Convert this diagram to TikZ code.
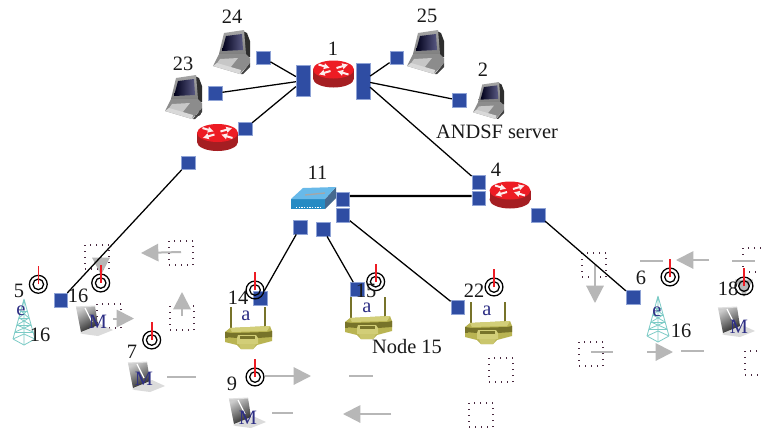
\documentclass[tikz,border=0pt]{standalone}
\usepackage{fontspec}
\setmainfont{Liberation Serif}
\usetikzlibrary{arrows.meta}
\definecolor{sqblue}{HTML}{2F4DA3}
\definecolor{sqedge}{HTML}{8FA3D6}
\definecolor{navy}{HTML}{2E2F85}
\definecolor{arrowgray}{HTML}{B7B7B7}
\definecolor{dotcol}{HTML}{4A2A40}
\definecolor{rred}{HTML}{ED1C24}
\definecolor{rdark}{HTML}{A51E22}
\definecolor{tealt}{HTML}{7CCBC6}
\definecolor{oliveA}{HTML}{B9B452}
\definecolor{oliveB}{HTML}{77732A}
\definecolor{oliveC}{HTML}{D2CE78}
\tikzset{
  lab/.style={inner sep=0pt,font=\fontsize{15.3}{18}\selectfont,text=black!90},
  icolab/.style={inner sep=0pt,font=\fontsize{15.3}{18}\selectfont,text=navy},
  sq/.style={rectangle,draw=sqedge,line width=.3pt,fill=sqblue,inner sep=0pt,minimum width=10.4pt,minimum height=10.4pt},
  barL/.style={sq,minimum height=23.5pt},
  barR/.style={sq,minimum height=27pt},
  link/.style={draw=black,line width=.95pt},
  thicklink/.style={draw=black,line width=1.7pt},
  ring/.style={circle,draw=black,line width=.95pt,inner sep=0pt,minimum size=13.4pt},
  ringin/.style={draw=black,line width=.95pt},
  redl/.style={draw=rred,line width=1.2pt},
  dotbox/.style={rectangle,draw=dotcol,line width=1pt,dash pattern=on 1pt off 3.5pt,inner sep=0pt,minimum size=18pt},
  gline/.style={draw=arrowgray,line width=1.5pt},
  garrow/.style={gline,-{Triangle[length=13pt,width=13pt,color=arrowgray]}},
  router/.pic={
    \fill[rdark] (-20.5,-4.5) rectangle (20.5,4.5);
    \fill[rdark] (0,4.5) ellipse[x radius=20.5,y radius=9];
    \fill[rred] (0,-4.5) ellipse[x radius=20.5,y radius=9];
    \begin{scope}[white!92!rred,line width=1.5pt,-{Latex[length=4.6pt,width=5pt]}]
      \draw (-15,-9.5) -- (-3.5,-6);
      \draw (15,0.5) -- (3.5,-3);
      \draw (-3,-3) -- (-15,0.5);
      \draw (3,-6) -- (15,-9.5);
    \end{scope}
  },
  computer/.pic={
    \fill[black!82] (30,1) -- (34,3) -- (37,11) -- (37,27) -- (32,27) -- cycle;
    \shade[top color=black!35,bottom color=black!50] (6,24) -- (11,3) -- (31,0) -- (33,24) -- cycle;
    \shade[left color=black!90!blue,right color=blue!25!black!65] (9,21) -- (13,6) -- (29,4) -- (30,20) -- cycle;
    \fill[black!45] (0,36) -- (6,24) -- (33,24) -- (37,28) -- (37,33) -- (27,44) -- cycle;
    \fill[black!22] (2,36) -- (7,29) -- (25,28) -- (17,38) -- cycle;
    \fill[black!75] (28,44) -- (37,33) -- (37,37) -- (30,44) -- cycle;
    \fill[black!15] (0,36) -- (27,44) -- (28,40) -- (4,33) -- cycle;
  },
  laptop/.pic={
    \fill[black!14] (4,27) -- (24,18) -- (37,24) -- (22,30) -- (7,28) -- cycle;
    \shade[top color=black!20,bottom color=black!85,shading angle=30] (0,1) -- (19,0) -- (22,19) -- (5,26) -- cycle;
    \draw[white,line width=1pt] (9,2) -- (16,16);
    \draw[black!12,line width=.8pt] (0,1) -- (19,0);
  },
  tower/.pic={
    \begin{scope}[draw=tealt,line width=.6pt]
      \draw (0,0) -- (-11,40) (0,0) -- (11,40) (0,0) -- (0,46);
      \draw (-3,12) -- (3,12) (-5,19) -- (5,19) (-7,26) -- (7,26) (-9,33) -- (9,33);
      \draw (-3,12) -- (5,19) (3,12) -- (-5,19) (-5,19) -- (7,26) (5,19) -- (-7,26) (-7,26) -- (9,33) (7,26) -- (-9,33);
      \draw (-11,40) -- (0,35) -- (11,40) (-11,40) -- (0,46) -- (11,40);
    \end{scope}
  },
  apbox/.pic={
    \draw[oliveB,line width=1.5pt] (6,0) -- (6,25) (39.5,0) -- (39.5,24);
    \fill[oliveA] (0,25) -- (5,21) -- (45,19) -- (47,24) -- (47,34) -- (32,38) -- (28,42) -- (16,42) -- (12,38) -- (0,35) -- cycle;
    \fill[oliveC] (5,21) -- (45,19) -- (42,24) -- (7,25) -- cycle;
    \fill[oliveB] (0,25) -- (7,26) -- (42,25) -- (47,24) -- (47,30) -- (33,31) -- (12,31) -- (0,30) -- cycle;
    \fill[oliveC] (13,28) -- (31,28) -- (33,31) -- (33,37) -- (12,37) -- (12,31) -- cycle;
    \fill[oliveB] (15,29) rectangle (30,32);
    \fill[oliveB] (0,28) rectangle (3,31);
    \fill[oliveC!70!oliveA] (14,37) -- (31,37) -- (28,42) -- (16,42) -- cycle;
  }
}
\newcommand{\antring}[3]{%
  \node[ring] (#1) at (#2,#3) {};
  \draw[ringin] (#1.center) circle[radius=5.3];
  \draw[redl] (#1.center) -- ++(0,-18);
}
\newcommand{\gseg}[6]{% name, style, x1,y1,x2,y2
  \coordinate (#1s) at (#3,#4);
  \coordinate (#1e) at (#5,#6);
  \draw[#2] (#1s) -- (#1e);
}
\begin{document}
\begin{tikzpicture}[x=.75pt,y=-.75pt]
\useasboundingbox (0,0) rectangle (761,430);
\fill[white] (0,0) rectangle (761,430);
\clip (0,0) rectangle (761,430);

% dotted boxes
\node[dotbox] (d1) at (97,257) {};
\node[dotbox] (d2) at (181,253) {};
\node[dotbox] (d3) at (109,316) {};
\node[dotbox] (d4) at (182,318) {};
\node[dotbox] (d5) at (501,370) {};
\node[dotbox] (d6) at (481,415) {};
\node[dotbox] (d7) at (594,265) {};
\node[dotbox] (d8) at (755,260) {};
\node[dotbox] (d9) at (591,354) {};
\node[dotbox] (d10) at (757,363) {};

% gray arrows
\gseg{a1}{garrow}{181}{252}{141}{253}
\gseg{a2}{garrow}{101}{256}{101}{275}
\gseg{a3}{garrow}{113}{318.5}{134}{318.5}
\gseg{a4}{garrow}{182}{316}{182}{292}
\gseg{a5}{gline}{167}{377}{196}{377}
\gseg{a6}{garrow}{265}{376}{311}{376}
\gseg{a7}{gline}{349}{376}{373}{376}
\gseg{a8}{gline}{272}{413}{293}{413}
\gseg{a9}{garrow}{391}{414}{343}{414}
\gseg{a10}{garrow}{595}{265}{595}{303}
\gseg{a11}{gline}{640}{261}{663}{261}
\gseg{a12}{garrow}{709}{260}{676}{260}
\gseg{a13}{gline}{732}{261}{755}{261}
\gseg{a14}{gline}{591}{352}{613}{352}
\gseg{a15}{garrow}{647}{352}{673}{352}
\gseg{a16}{gline}{681}{351}{704}{351}
\gseg{a17}{garrow}{744}{290}{744}{297}

% hidden label behind computer 23
\node[lab] (l3) at (197,110) {3};

% icons
\pic (c24) at (213,30) {computer};
\pic (c23) at (165,75) {computer};
\pic (c25) at (407,30) {computer};
\pic[scale=.84] (c2) at (473,82) {computer};
\pic (r1) at (333.5,74) {router};
\pic (r3) at (217.5,137.5) {router};
\pic (r4) at (510,195) {router};
\pic (l16) at (76,306) {laptop};
\pic (l7) at (128,362) {laptop};
\pic (l9) at (229,398) {laptop};
\pic (l18) at (718,307) {laptop};
\pic (t5) at (24,299) {tower};
\pic (t6) at (658,296) {tower};
\pic (ap14) at (225,307) {apbox};
\pic (ap15) at (345,297) {apbox};
\pic (ap22) at (465,302) {apbox};

% switch
\fill[cyan!80!blue!85!black] (291,199) -- (291,209) -- (325,209) -- (325,199) -- cycle;
\fill[cyan!60!blue!60!black] (325,199) -- (325,209) -- (336,198) -- (336,187) -- cycle;
\fill[cyan!80!blue!60] (291,199) -- (303,188) -- (336,187) -- (325,199) -- cycle;
\draw[black!35,line width=1pt] (305,195) -- (325,193);
\draw[white,line width=.6pt,dash pattern=on 1pt off 1pt] (296,207) -- (322,207);

% squares
\node[sq] (s24) at (263.3,57.7) {};
\node[barL] (bl) at (303,80.7) {};
\node[barR] (br) at (363,81) {};
\node[sq] (s23) at (215.3,93.3) {};
\node[sq] (s3a) at (245,128.7) {};
\node[sq] (s3b) at (188.3,162.7) {};
\node[sq] (s25) at (396.7,57.7) {};
\node[sq] (s2) at (459,100.3) {};
\node[sq] (s4a) at (478.7,182.3) {};
\node[sq] (s4b) at (478.7,198) {};
\node[sq] (s4c) at (538,215) {};
\node[sq] (s11a) at (342.7,199.3) {};
\node[sq] (s11b) at (342.7,215) {};
\node[sq] (s11c) at (300.3,227.3) {};
\node[sq] (s11d) at (323,229.3) {};
\node[sq] (s5) at (60.7,300) {};
\node[sq] (s14) at (260,298.3) {};
\node[sq] (s15) at (357.3,289.3) {};
\node[sq] (s22) at (457.7,307) {};
\node[sq] (s6) at (633,297) {};

% connectors
\draw[link] (s24) -- (bl);
\draw[link] (s23) -- (bl);
\draw[link] (s3a) -- (bl);
\draw[link] (s25) -- (br);
\draw[link] (s2) -- (br);
\draw[link] (s4a) -- (br);
\draw[link] (s3b) -- (s5);
\draw[thicklink] ([yshift=2.5pt]s11a.east) -- ([yshift=1.5pt]s4b.west);
\draw[link] (s11c) -- (s14);
\draw[link] (s11d) -- (s15);
\draw[link] (s11b) -- (s22);
\draw[link] (s4c) -- (s6);

% antennas
\antring{o5}{38.3}{284.3}
\antring{o16}{100.7}{283}
\antring{o7}{151.7}{340}
\antring{o14}{255}{290}
\antring{o15}{375.7}{281.7}
\antring{o22}{494}{287}
\antring{o9}{255}{377}
\antring{o6}{670}{277}
\antring{o18}{744}{286}

% labels
\node[lab] (n24) at (232,17) {24};
\node[lab] (n23) at (183,64) {23};
\node[lab] (n1) at (333,49) {1};
\node[lab] (n25) at (427,16) {25};
\node[lab] (n2) at (483,70) {2};
\node[lab] (nand) at (497,132) {ANDSF server};
\node[lab] (n4) at (496,170) {4};
\node[lab] (n11) at (317.5,173) {11};
\node[lab] (n5) at (19,291) {5};
\node[lab] (n16a) at (78,296) {16};
\node[lab] (n16b) at (40,335) {16};
\node[lab] (n7) at (132,352) {7};
\node[lab] (n14) at (238,298) {14};
\node[lab] (n15) at (366,291) {15};
\node[lab] (n22) at (474,291) {22};
\node[lab] (nn15) at (407,347) {Node 15};
\node[lab] (n9) at (232,384) {9};
\node[lab] (n6) at (641,278) {6};
\node[lab] (n18) at (728,289) {18};
\node[lab] (n16c) at (681,331) {16};
\node[icolab] (e1) at (21,311) {e};
\node[icolab] (e2) at (657,312) {e};
\node[icolab] (m1) at (98,322) {M};
\node[icolab] (m2) at (144,379) {M};
\node[icolab] (m3) at (248,418) {M};
\node[icolab] (m4) at (739,327) {M};
\node[icolab] (a1) at (246,315.5) {a};
\node[icolab] (a2) at (367,307.5) {a};
\node[icolab] (a3) at (487,310.5) {a};
\end{tikzpicture}
\end{document}
